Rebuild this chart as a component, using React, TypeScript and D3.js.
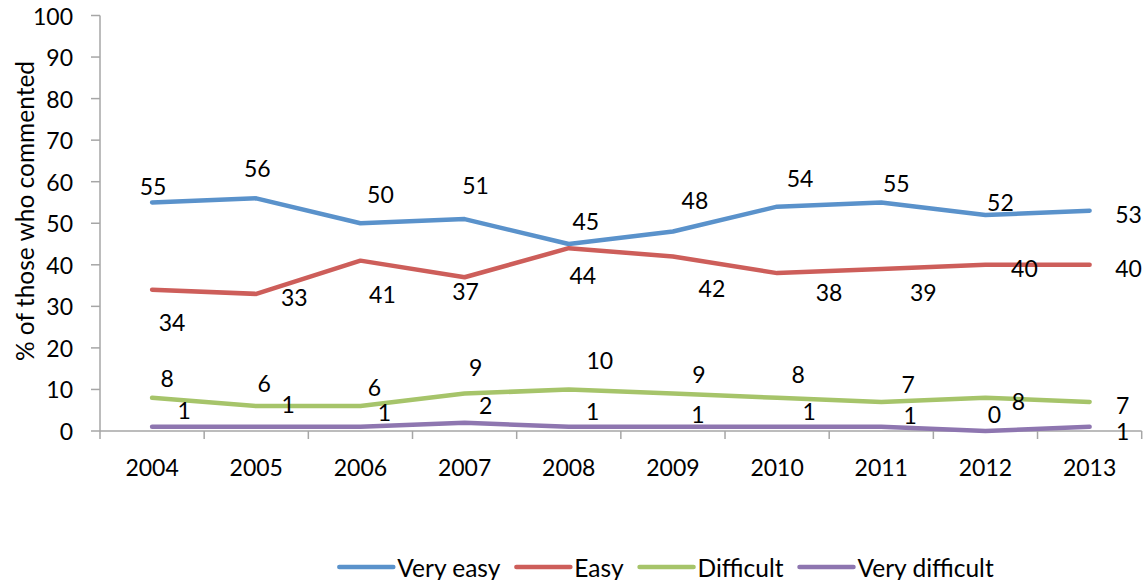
import React, { useEffect, useRef } from "react";
import * as d3 from "d3";

const years = ["2004", "2005", "2006", "2007", "2008", "2009", "2010", "2011", "2012", "2013"];
const veryEasy = [55, 56, 50, 51, 45, 48, 54, 55, 52, 53];
const easy = [34, 33, 41, 37, 44, 42, 38, 39, 40, 40];
const difficult = [8, 6, 6, 9, 10, 9, 8, 7, 8, 7];
const veryDifficult = [1, 1, 1, 2, 1, 1, 1, 1, 0, 1];
const seriesNames = ["Very easy", "Easy", "Difficult", "Very difficult"];
const yTicks = [0, 10, 20, 30, 40, 50, 60, 70, 80, 90, 100];

// label placement offsets (pixels) relative to each point, mimicking the source
const labelOffsets: [number, number][][] = [
  [[1, -16], [1, -30], [20, -29], [11, -34], [17, -23], [22, -32], [23, -29], [15, -19], [15, -13], [39, 3]],
  [[20, 32], [38, 3], [22, 33], [1, 14], [14, 27], [39, 32], [52, 19], [42, 23], [39, 3], [39, 3]],
  [[15, -20], [8, -23], [14, -19], [11, -27], [31, -29], [26, -20], [21, -24], [27, -18], [33, 3], [33, 3]],
  [[32, -17], [32, -23], [24, -15], [21, -18], [24, -16], [25, -13], [32, -16], [29, -12], [9, -17], [33, 4]],
];

const colors = ["#5A92CB", "#CD5E5A", "#A6C46A", "#8E76B0"];
const FONT = "Lato, 'Open Sans', sans-serif";
const NUM_SIZE = 23;
const TEXT_SIZE = 24.5;

export default function App() {
  const ref = useRef<SVGSVGElement>(null);

  useEffect(() => {
    const svg = d3.select(ref.current);
    svg.selectAll("*").remove();

    const left = 100, right = 1141.7, top = 15.5, bottom = 431;
    const x = d3.scalePoint<string>().domain(years).range([left, right]).padding(0.5);
    const y = d3.scaleLinear().domain([0, 100]).range([bottom, top]);
    const step = x.step();
    const axisColor = "#A6A6A6";

    const g = svg.append("g");

    // Y axis
    g.append("line").attr("x1", left).attr("x2", left).attr("y1", y(100)).attr("y2", bottom)
      .attr("stroke", axisColor).attr("stroke-width", 1.5);
    yTicks.forEach((t) => {
      g.append("line").attr("x1", left - 9).attr("x2", left).attr("y1", y(t)).attr("y2", y(t))
        .attr("stroke", axisColor).attr("stroke-width", 1.5);
      g.append("text").attr("x", 73).attr("y", y(t)).attr("text-anchor", "end")
        .attr("dominant-baseline", "central").attr("font-family", FONT).attr("font-size", NUM_SIZE)
        .attr("fill", "#000").text(String(t));
    });

    // X axis
    g.append("line").attr("x1", left).attr("x2", right).attr("y1", bottom).attr("y2", bottom)
      .attr("stroke", axisColor).attr("stroke-width", 1.5);
    for (let i = 0; i <= years.length; i++) {
      const tx = left + i * step;
      g.append("line").attr("x1", tx).attr("x2", tx).attr("y1", bottom).attr("y2", bottom + 8)
        .attr("stroke", axisColor).attr("stroke-width", 1.5);
    }
    years.forEach((yr) => {
      g.append("text").attr("x", x(yr)!).attr("y", 467).attr("text-anchor", "middle")
        .attr("dominant-baseline", "central").attr("font-family", FONT).attr("font-size", NUM_SIZE)
        .attr("fill", "#000").text(yr);
    });

    // Y title
    g.append("text").attr("transform", "translate(24,211) rotate(-90)").attr("text-anchor", "middle")
      .attr("dominant-baseline", "central").attr("font-family", FONT).attr("font-size", TEXT_SIZE)
      .attr("fill", "#000").text("% of those who commented");

    const all = [veryEasy, easy, difficult, veryDifficult];
    const line = d3.line<number>().x((_, i) => x(years[i])!).y((d) => y(d));

    all.forEach((vals, si) => {
      g.append("path").attr("d", line(vals)!).attr("fill", "none").attr("stroke", colors[si])
        .attr("stroke-width", 4.5).attr("stroke-linecap", "round").attr("stroke-linejoin", "round");
    });

    all.forEach((vals, si) => {
      vals.forEach((v, i) => {
        const [dx, dy] = labelOffsets[si][i];
        g.append("text").attr("x", x(years[i])! + dx).attr("y", y(v) + dy).attr("text-anchor", "middle")
          .attr("dominant-baseline", "central").attr("font-family", FONT).attr("font-size", NUM_SIZE)
          .attr("fill", "#000").text(String(v));
      });
    });

    // Legend
    const legend = g.append("g");
    const swatchW = 54, gapText = 4, gapItem = 16, ly = 567;
    let cursor = 0;
    seriesNames.forEach((name, si) => {
      const item = legend.append("g");
      item.append("line").attr("x1", cursor).attr("x2", cursor + swatchW).attr("y1", ly).attr("y2", ly)
        .attr("stroke", colors[si]).attr("stroke-width", 4.5).attr("stroke-linecap", "round");
      const t = item.append("text").attr("x", cursor + swatchW + gapText).attr("y", ly)
        .attr("dominant-baseline", "central").attr("font-family", FONT).attr("font-size", TEXT_SIZE)
        .attr("fill", "#000").text(name);
      const w = (t.node() as SVGTextElement).getComputedTextLength();
      cursor += swatchW + gapText + w + gapItem;
    });
    const total = cursor - gapItem;
    legend.attr("transform", `translate(${666.5 - total / 2},0)`);
  }, []);

  return (
    <svg ref={ref} width={1148} height={580} style={{ position: "absolute", left: 0, top: 0, background: "#fff" }} />
  );
}
